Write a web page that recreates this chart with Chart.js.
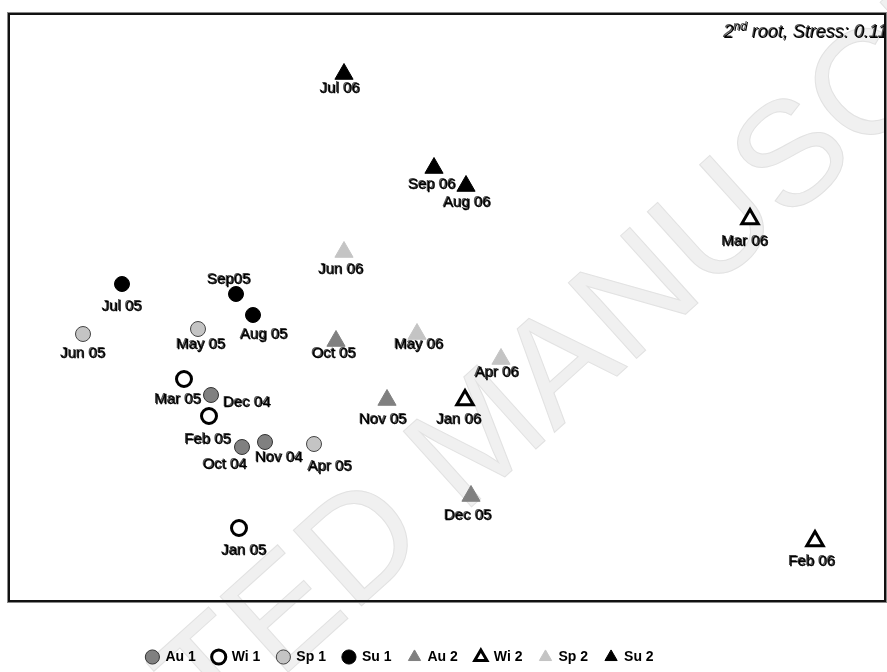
<!DOCTYPE html>
<html><head><meta charset="utf-8">
<script src="https://cdn.jsdelivr.net/npm/chart.js@4"></script>
<style>html,body{margin:0;padding:0;background:#fff;}#wrap{width:887px;height:672px;}</style>
</head><body><div id="wrap"><canvas id="c" width="887" height="672"></canvas></div>
<script>
// ---- data (MDS ordination coordinates, arbitrary units) ----
const categories = ['Au 1','Wi 1','Sp 1','Su 1','Au 2','Wi 2','Sp 2','Su 2'];

const au1Labels = ['Oct 04','Nov 04','Dec 04'];
const au1X = [233, 256, 202];
const au1Y = [154, 159, 206];

const wi1Labels = ['Jan 05','Feb 05','Mar 05'];
const wi1X = [230, 200, 175];
const wi1Y = [73, 185, 222];

const sp1Labels = ['Apr 05','May 05','Jun 05'];
const sp1X = [305, 189, 74];
const sp1Y = [157, 272, 267];

const su1Labels = ['Jul 05','Aug 05','Sep05'];
const su1X = [113, 244, 227];
const su1Y = [317, 286, 307];

const au2Labels = ['Oct 05','Nov 05','Dec 05'];
const au2X = [327, 378, 462];
const au2Y = [260, 201, 105];

const wi2Labels = ['Jan 06','Feb 06','Mar 06'];
const wi2X = [456, 806, 741];
const wi2Y = [201, 60, 382];

const sp2Labels = ['Apr 06','May 06','Jun 06'];
const sp2X = [492, 408, 335];
const sp2Y = [242, 267, 349];

const su2Labels = ['Jul 06','Aug 06','Sep 06'];
const su2X = [335, 457, 425];
const su2Y = [527, 415, 433];

const stressText = 'Stress: 0.11';

// ---- layout: label offsets (px) relative to marker ----
const labelOffsets = {
  'Oct 04':[-17,18],'Nov 04':[14,16],'Dec 04':[36,8],
  'Jan 05':[5,23],'Feb 05':[-1,24],'Mar 05':[-6,21],
  'Apr 05':[16,23],'May 05':[3,16],'Jun 05':[0,20],
  'Jul 05':[0,23],'Aug 05':[11,20],'Sep05':[-7,-14],
  'Oct 05':[-2,13],'Nov 05':[-4,20],'Dec 05':[-3,20],
  'Jan 06':[-6,20],'Feb 06':[-3,21],'Mar 06':[-5,23],
  'Apr 06':[-4,14],'May 06':[2,11],'Jun 06':[-3,18],
  'Jul 06':[-4,15],'Aug 06':[1,17],'Sep 06':[-2,17]
};

function pts(xs, ys){ return xs.map((x,i)=>({x:x, y:ys[i]})); }

const styles = {
  'Au 1':{ps:'circle', bg:'#808080', bc:'#333', bw:1, r:7.5},
  'Wi 1':{ps:'circle', bg:'#ffffff', bc:'#000', bw:3, r:7.5},
  'Sp 1':{ps:'circle', bg:'#c4c4c4', bc:'#444', bw:1, r:7.5},
  'Su 1':{ps:'circle', bg:'#000000', bc:'#000', bw:1, r:7.5},
  'Au 2':{ps:'triangle', bg:'#808080', bc:'#808080', bw:1, r:10.5},
  'Wi 2':{ps:'triangle', bg:'#ffffff', bc:'#000', bw:3, r:9.5},
  'Sp 2':{ps:'triangle', bg:'#c4c4c4', bc:'#c4c4c4', bw:1, r:10.5},
  'Su 2':{ps:'triangle', bg:'#000000', bc:'#000', bw:1, r:10.5}
};

const seriesData = [
  [au1X,au1Y,au1Labels],[wi1X,wi1Y,wi1Labels],[sp1X,sp1Y,sp1Labels],[su1X,su1Y,su1Labels],
  [au2X,au2Y,au2Labels],[wi2X,wi2Y,wi2Labels],[sp2X,sp2Y,sp2Labels],[su2X,su2Y,su2Labels]
];

const datasets = categories.map((name, k) => {
  const s = styles[name];
  return {
    label: name,
    data: pts(seriesData[k][0], seriesData[k][1]),
    pointNames: seriesData[k][2],
    pointStyle: s.ps,
    backgroundColor: s.bg,
    borderColor: s.bc,
    borderWidth: s.bw,
    pointRadius: s.r,
    pointHoverRadius: s.r,
    showLine: false
  };
});

const FONT = '"Liberation Sans", Arial, sans-serif';

const watermark = {
  id:'watermark',
  beforeDraw(chart){
    const ctx = chart.ctx;
    ctx.save();
    ctx.font = '148px ' + FONT;
    const pre = ctx.measureText('ACCEPTE').width;
    const dW = ctx.measureText('D').width;
    ctx.translate(365, 548);
    ctx.rotate(-42 * Math.PI/180);
    ctx.textBaseline = 'middle';
    ctx.fillStyle = '#f0f0f0';
    ctx.strokeStyle = '#e2e2e2';
    ctx.lineWidth = 1;
    ctx.fillText('ACCEPTED MANUSCRIPT', -(pre + dW/2), 0);
    ctx.strokeText('ACCEPTED MANUSCRIPT', -(pre + dW/2), 0);
    ctx.restore();
  }
};

const labelPlugin = {
  id:'pointLabels',
  afterDatasetsDraw(chart){
    const ctx = chart.ctx;
    ctx.save();
    ctx.font = '15px ' + FONT;
    ctx.textAlign = 'center';
    ctx.textBaseline = 'middle';
    ctx.lineWidth = 0.4;
    chart.data.datasets.forEach((ds, di) => {
      const meta = chart.getDatasetMeta(di);
      meta.data.forEach((el, i) => {
        const name = ds.pointNames[i];
        const off = labelOffsets[name] || [0,20];
        const x = el.x + off[0], y = el.y + off[1];
        ctx.fillStyle = '#555';
        ctx.fillText(name, x - 0.8, y - 0.8);
        ctx.fillStyle = '#000';
        ctx.strokeStyle = '#000';
        ctx.fillText(name, x + 0.3, y + 0.3);
        ctx.strokeText(name, x + 0.3, y + 0.3);
      });
    });
    ctx.restore();
  }
};

const framePlugin = {
  id:'frame',
  afterDraw(chart){
    const ctx = chart.ctx, a = chart.chartArea;
    ctx.save();
    // stress annotation
    ctx.textBaseline = 'alphabetic';
    const big = 'italic 18px ' + FONT, small = 'italic 12px ' + FONT;
    ctx.font = big; const w1 = ctx.measureText('2').width;
    const w3 = ctx.measureText(' root, ' + stressText).width;
    ctx.font = small; const w2 = ctx.measureText('nd').width;
    const x = a.right + 3 - (w1 + w2 + w3);
    const yb = a.top + 24;
    const drawT = (dx, dy) => {
      ctx.font = big; ctx.fillText('2', x + dx, yb + dy);
      ctx.font = small; ctx.fillText('nd', x + w1 + dx, yb - 7 + dy);
      ctx.font = big; ctx.fillText(' root, ' + stressText, x + w1 + w2 + dx, yb + dy);
    };
    ctx.fillStyle = '#555'; drawT(-0.8, -0.8);
    ctx.fillStyle = '#000'; drawT(0.3, 0.3);
    // frame
    ctx.strokeStyle = '#888';
    ctx.lineWidth = 1;
    ctx.strokeRect(a.left - 1.5, a.top - 1.5, a.right - a.left + 3, a.bottom - a.top + 3);
    ctx.strokeStyle = '#111';
    ctx.lineWidth = 2;
    ctx.strokeRect(a.left, a.top, a.right - a.left, a.bottom - a.top);
    ctx.restore();
  }
};

const legendShift = {
  id:'legendShift',
  afterLayout(chart){
    const l = chart.legend;
    if (l) { l.left -= 47; l.right -= 47; l.top += 2; l.bottom += 2; }
  }
};

new Chart(document.getElementById('c'), {
  type:'scatter',
  data:{ datasets },
  options:{
    responsive:false,
    animation:false,
    devicePixelRatio:1,
    layout:{ autoPadding:false, padding:{ left:9, right:2, top:14, bottom:0 } },
    scales:{
      x:{ type:'linear', min:0, max:876, display:true,
          grid:{display:false}, ticks:{display:false}, border:{display:false},
          afterFit(s){ s.height = 30; } },
      y:{ type:'linear', min:0, max:587, display:false }
    },
    plugins:{
      tooltip:{ enabled:false },
      legend:{
        position:'bottom',
        labels:{
          usePointStyle:true, boxWidth:12, boxHeight:10, padding:17,
          color:'#000', font:{ family:FONT, size:14, weight:'bold' }
        }
      }
    }
  },
  plugins:[watermark, labelPlugin, framePlugin, legendShift]
});
</script></body></html>
